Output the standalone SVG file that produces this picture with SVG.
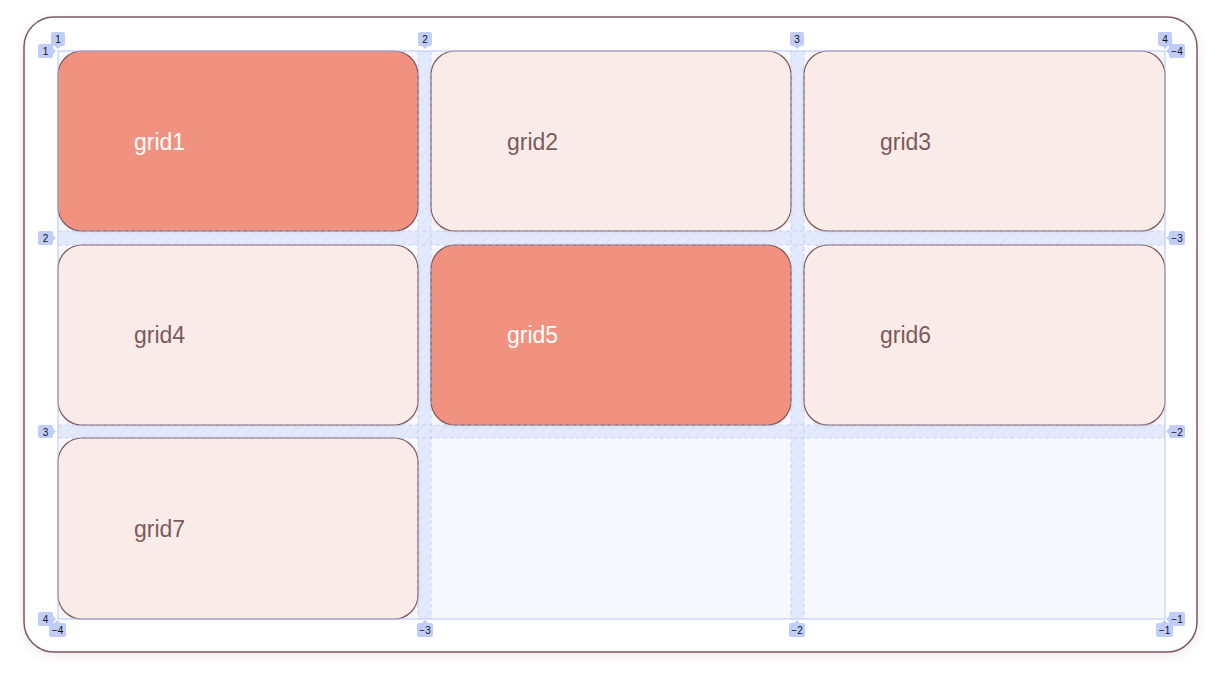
<svg xmlns="http://www.w3.org/2000/svg" width="1225" height="675" viewBox="0 0 1225 675">
<defs>
<filter id="sh" x="-5%" y="-5%" width="110%" height="115%">
<feDropShadow dx="0" dy="3" stdDeviation="5" flood-color="#6a4a4c" flood-opacity="0.12"/>
</filter>
<filter id="ish" x="-5%" y="-5%" width="110%" height="115%">
<feDropShadow dx="0" dy="1" stdDeviation="1.5" flood-color="#6a4a4c" flood-opacity="0.1"/>
</filter>
<pattern id="hatch" width="8" height="8" patternUnits="userSpaceOnUse" patternTransform="rotate(45)">
<rect width="8" height="8" fill="#e4eafd"/>
<line x1="0" y1="0" x2="0" y2="8" stroke="#d3ddfb" stroke-width="1"/>
</pattern>
</defs>
<style>
.item{stroke:#82595c;stroke-width:1.2;filter:url(#ish)}
.hot{fill:#f1917f}
.cool{fill:#f9ece8}
.lbl{font-family:"Liberation Sans",Arial,sans-serif;font-size:23px}
.lhot{fill:#ffffff}
.lcool{fill:#7d5a5e}
.tag rect{fill:#bfcdf8}
.tag path{fill:#bfcdf8}
.tag text{font-family:"Liberation Sans",Arial,sans-serif;font-size:10px;fill:#111;text-anchor:middle}
.gl{stroke:#b6c6f6;stroke-width:1;fill:none}
.gd{stroke:#b6c7f6;stroke-width:0.8;stroke-dasharray:4 3;fill:none;opacity:0.85}
</style>
<rect x="24" y="17" width="1173" height="635" rx="30" fill="#ffffff" stroke="#7d5a5c" stroke-width="1.5" filter="url(#sh)"/>
<g id="grid-bg">
<rect x="58" y="51" width="1107" height="568" fill="#f7f8fe"/>
</g>
<g id="gaps">
<rect x="418" y="51" width="13" height="568" fill="url(#hatch)"/>
<rect x="791" y="51" width="13" height="568" fill="url(#hatch)"/>
<rect x="58" y="231" width="1107" height="14" fill="url(#hatch)"/>
<rect x="58" y="425" width="1107" height="13" fill="url(#hatch)"/>
</g>
<g id="grid1"><rect class="item hot" x="58" y="51" width="360" height="180" rx="24"/><text class="lbl lhot" x="134" y="150">grid1</text></g>
<g id="grid2"><rect class="item cool" x="431" y="51" width="360" height="180" rx="24"/><text class="lbl lcool" x="507" y="150">grid2</text></g>
<g id="grid3"><rect class="item cool" x="804" y="51" width="361" height="180" rx="24"/><text class="lbl lcool" x="880" y="150">grid3</text></g>
<g id="grid4"><rect class="item cool" x="58" y="245" width="360" height="180" rx="24"/><text class="lbl lcool" x="134" y="343">grid4</text></g>
<g id="grid5"><rect class="item hot" x="431" y="245" width="360" height="180" rx="24"/><text class="lbl lhot" x="507" y="343">grid5</text></g>
<g id="grid6"><rect class="item cool" x="804" y="245" width="361" height="180" rx="24"/><text class="lbl lcool" x="880" y="343">grid6</text></g>
<g id="grid7"><rect class="item cool" x="58" y="438" width="360" height="181" rx="24"/><text class="lbl lcool" x="134" y="537">grid7</text></g>
<g id="connectors">
<rect class="gl" x="58" y="51" width="1107" height="568"/>
<path class="gd" d="M418,51V619M431,51V619M791,51V619M804,51V619M58,231H1165M58,245H1165M58,425H1165M58,438H1165"/>
</g>
<g id="tags">
<g class="tag"><rect x="51" y="32" width="14" height="14" rx="2"/><path d="M55,46 L61,46 L58,49 Z"/><text x="58" y="43">1</text></g>
<g class="tag"><rect x="418" y="32" width="14" height="14" rx="2"/><path d="M422,46 L428,46 L425,49 Z"/><text x="425" y="43">2</text></g>
<g class="tag"><rect x="790" y="32" width="14" height="14" rx="2"/><path d="M794,46 L800,46 L797,49 Z"/><text x="797" y="43">3</text></g>
<g class="tag"><rect x="1158" y="32" width="14" height="14" rx="2"/><path d="M1162,46 L1168,46 L1165,49 Z"/><text x="1165" y="43">4</text></g>
<g class="tag"><rect x="38" y="44" width="15" height="14" rx="2"/><path d="M53,48 L53,54 L56,51 Z"/><text x="45.5" y="55">1</text></g>
<g class="tag"><rect x="38" y="231" width="15" height="14" rx="2"/><path d="M53,235 L53,241 L56,238 Z"/><text x="45.5" y="242">2</text></g>
<g class="tag"><rect x="38" y="425" width="15" height="13" rx="2"/><path d="M53,428.5 L53,434.5 L56,431.5 Z"/><text x="45.5" y="435.5">3</text></g>
<g class="tag"><rect x="38" y="612" width="15" height="14" rx="2"/><path d="M53,616 L53,622 L56,619 Z"/><text x="45.5" y="623">4</text></g>
<g class="tag"><rect x="1169" y="44" width="16" height="14" rx="2"/><path d="M1169,48 L1169,54 L1166,51 Z"/><text x="1177" y="55">−4</text></g>
<g class="tag"><rect x="1169" y="231" width="16" height="14" rx="2"/><path d="M1169,235 L1169,241 L1166,238 Z"/><text x="1177" y="242">−3</text></g>
<g class="tag"><rect x="1169" y="425" width="16" height="13" rx="2"/><path d="M1169,428.5 L1169,434.5 L1166,431.5 Z"/><text x="1177" y="435.5">−2</text></g>
<g class="tag"><rect x="1169" y="612" width="16" height="14" rx="2"/><path d="M1169,616 L1169,622 L1166,619 Z"/><text x="1177" y="623">−1</text></g>
<g class="tag"><rect x="49" y="623" width="17" height="14" rx="2"/><path d="M54.5,623 L60.5,623 L57.5,620 Z"/><text x="57.5" y="634">−4</text></g>
<g class="tag"><rect x="417" y="623" width="16" height="14" rx="2"/><path d="M422,623 L428,623 L425,620 Z"/><text x="425" y="634">−3</text></g>
<g class="tag"><rect x="789" y="623" width="16" height="14" rx="2"/><path d="M794,623 L800,623 L797,620 Z"/><text x="797" y="634">−2</text></g>
<g class="tag"><rect x="1156" y="623" width="17" height="14" rx="2"/><path d="M1161.5,623 L1167.5,623 L1164.5,620 Z"/><text x="1164.5" y="634">−1</text></g>
</g>
</svg>
